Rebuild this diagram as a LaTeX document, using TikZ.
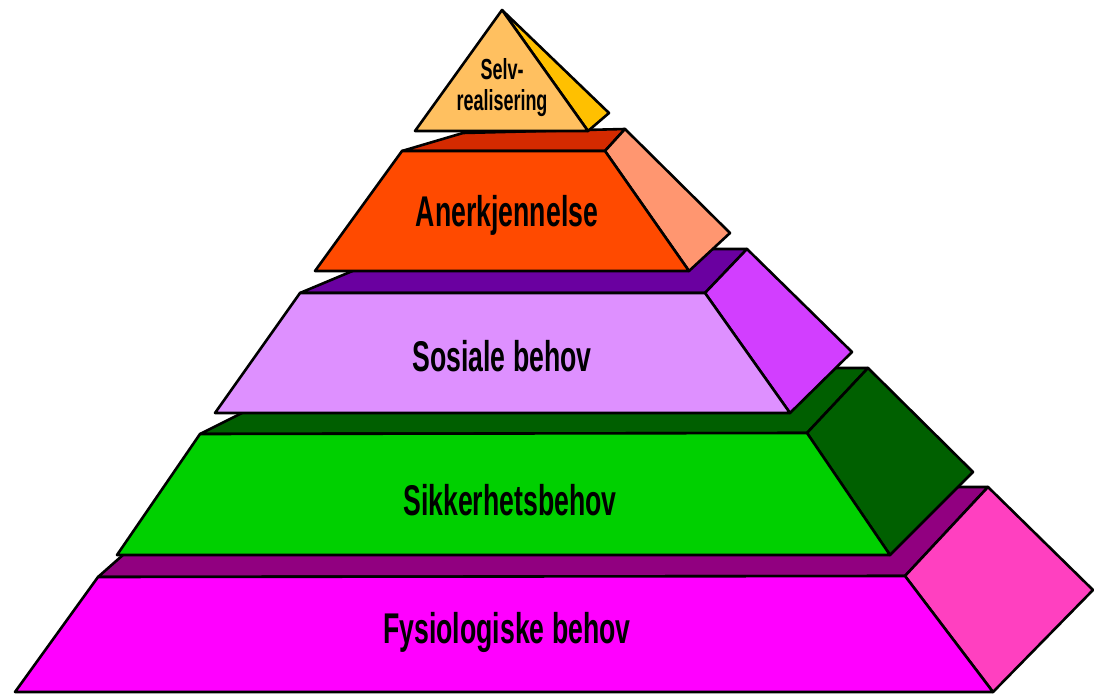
\documentclass[tikz,border=0pt]{standalone}
\usepackage{fontspec}
\newfontfamily\lbl[FakeStretch=0.62]{Liberation Sans}
\definecolor{selvF}{HTML}{FFC060}
\definecolor{selvS}{HTML}{FFC000}
\definecolor{anerF}{HTML}{FF4A00}
\definecolor{anerT}{HTML}{D42A00}
\definecolor{anerS}{HTML}{FF9670}
\definecolor{sosF}{HTML}{DE90FF}
\definecolor{sosT}{HTML}{6A00A0}
\definecolor{sosS}{HTML}{D23EFF}
\definecolor{sikF}{HTML}{00D000}
\definecolor{sikT}{HTML}{005F00}
\definecolor{sikS}{HTML}{006000}
\definecolor{fysF}{HTML}{FF00FF}
\definecolor{fysT}{HTML}{910080}
\definecolor{fysS}{HTML}{FF40C0}
\tikzset{
  face/.style={draw=black, line width=2.6pt, line join=round},
  lab/.style={font=\lbl\bfseries\fontsize{43}{45}\selectfont, text=black, inner sep=0pt},
  smalllab/.style={font=\lbl\bfseries\fontsize{29}{31}\selectfont, text=black, inner sep=0pt, align=center}
}
\begin{document}
\begin{tikzpicture}[x=1pt,y=-1pt]
\useasboundingbox (0,0) rectangle (1101,695);
% Fysiologiske behov
\filldraw[face, fill=fysT] (98,577) -- (200,487) -- (988,487) -- (905,576) -- cycle;
\filldraw[face, fill=fysS] (905,576) -- (988,487) -- (1093,590) -- (993,692) -- cycle;
\filldraw[face, fill=fysF] (98,577) -- (905,576) -- (993,692) -- (15,692) -- cycle;
% Sikkerhetsbehov
\filldraw[face, fill=sikT] (200,434) -- (332,368) -- (868,368) -- (807,433) -- cycle;
\filldraw[face, fill=sikS] (807,433) -- (868,368) -- (973,472) -- (890,555) -- cycle;
\filldraw[face, fill=sikF] (200,434) -- (807,433) -- (890,555) -- (117,555) -- cycle;
% Sosiale behov
\filldraw[face, fill=sosT] (300,293) -- (405,249) -- (747,249) -- (705,293) -- cycle;
\filldraw[face, fill=sosS] (705,293) -- (747,249) -- (852,352) -- (790,413) -- cycle;
\filldraw[face, fill=sosF] (300,293) -- (705,293) -- (790,413) -- (215,413) -- cycle;
% Anerkjennelse
\filldraw[face, fill=anerT] (402,151) -- (463,133) -- (625,129) -- (605,151) -- cycle;
\filldraw[face, fill=anerS] (605,151) -- (625,129) -- (730,233) -- (689,271) -- cycle;
\filldraw[face, fill=anerF] (402,151) -- (605,151) -- (689,271) -- (315,271) -- cycle;
% Selvrealisering
\filldraw[face, fill=selvS] (502,10) -- (609,113) -- (588,131) -- cycle;
\filldraw[face, fill=selvF] (502,10) -- (588,131) -- (415,131) -- cycle;
% labels
\node[smalllab] (selv) at (502,88) {Selv-\\realisering};
\node[lab] (aner) at (507,215) {Anerkjennelse};
\node[lab] (sos) at (502,356) {Sosiale behov};
\node[lab] (sik) at (510,500) {Sikkerhetsbehov};
\node[lab] (fys) at (507,632) {Fysiologiske behov};
\end{tikzpicture}
\end{document}
